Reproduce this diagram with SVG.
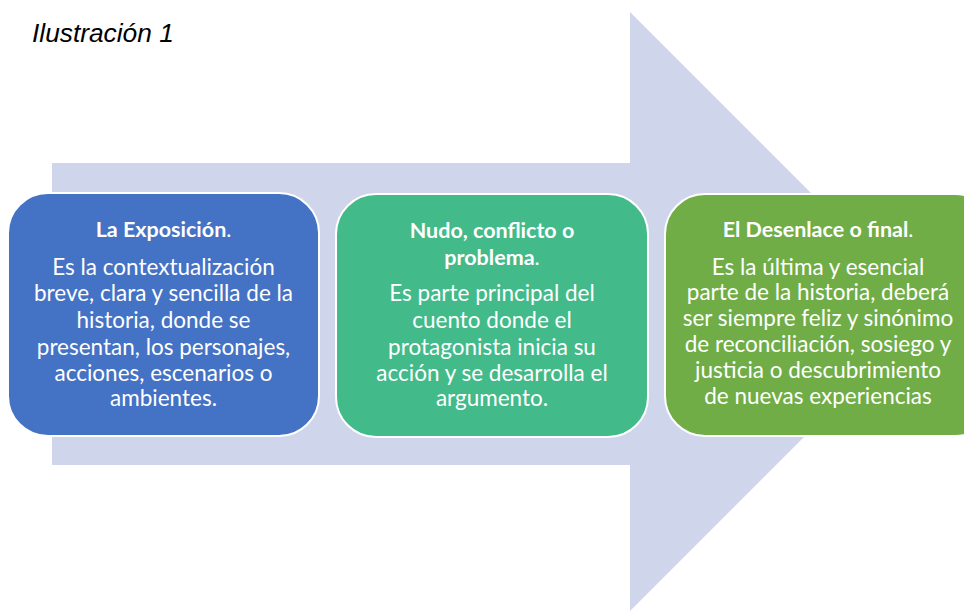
<svg xmlns="http://www.w3.org/2000/svg" width="964" height="611" viewBox="0 0 964 611">
<style>
.cap{font-family:"Liberation Sans",Arial,sans-serif;font-style:italic;font-size:26.3px;fill:#000}
.box{stroke:#ffffff;stroke-width:2}
.t{font-family:Lato,"Noto Sans",sans-serif;fill:#ffffff;text-anchor:middle}
.h{font-size:21.5px;font-weight:bold}
.b{font-size:22.5px}
.n{font-weight:normal}
</style>
<rect width="964" height="611" fill="#ffffff"/>
<text class="cap" x="32" y="42">Ilustración 1</text>
<g id="arrow">
<path d="M52,163 H630 V12 L929.5,311.5 L630,611 V465 H52 Z" fill="#cfd5ea"/>
</g>
<g id="connectors"></g>
<g id="node-exposicion">
<rect class="box" x="8" y="193" width="311" height="243" rx="40" fill="#4472c4"/>
<text class="t h" x="163.5" y="237">La Exposición<tspan class="n">.</tspan></text>
<text class="t b" x="163.5" y="275">Es la contextualización</text>
<text class="t b" x="163.5" y="301">breve, clara y sencilla de la</text>
<text class="t b" x="163.5" y="328">historia, donde se</text>
<text class="t b" x="163.5" y="355">presentan, los personajes,</text>
<text class="t b" x="163.5" y="381">acciones, escenarios o</text>
<text class="t b" x="163.5" y="406">ambientes.</text>
</g>
<g id="node-nudo">
<rect class="box" x="336" y="194" width="312" height="243" rx="40" fill="#43ba8a"/>
<text class="t h" x="492" y="238">Nudo, conflicto o</text>
<text class="t h" x="492" y="265">problema<tspan class="n">.</tspan></text>
<text class="t b" x="492" y="301">Es parte principal del</text>
<text class="t b" x="492" y="328">cuento donde el</text>
<text class="t b" x="492" y="355">protagonista inicia su</text>
<text class="t b" x="492" y="381">acción y se desarrolla el</text>
<text class="t b" x="492" y="406">argumento.</text>
</g>
<g id="node-desenlace">
<rect class="box" x="665" y="194" width="330" height="242" rx="40" fill="#70ad47"/>
<text class="t h" x="818" y="237">El Desenlace o final<tspan class="n">.</tspan></text>
<text class="t b" x="818" y="275">Es la última y esencial</text>
<text class="t b" x="818" y="300">parte de la historia, deberá</text>
<text class="t b" x="818" y="326">ser siempre feliz y sinónimo</text>
<text class="t b" x="818" y="352">de reconciliación, sosiego y</text>
<text class="t b" x="818" y="378">justicia o descubrimiento</text>
<text class="t b" x="818" y="404">de nuevas experiencias</text>
</g>
</svg>
